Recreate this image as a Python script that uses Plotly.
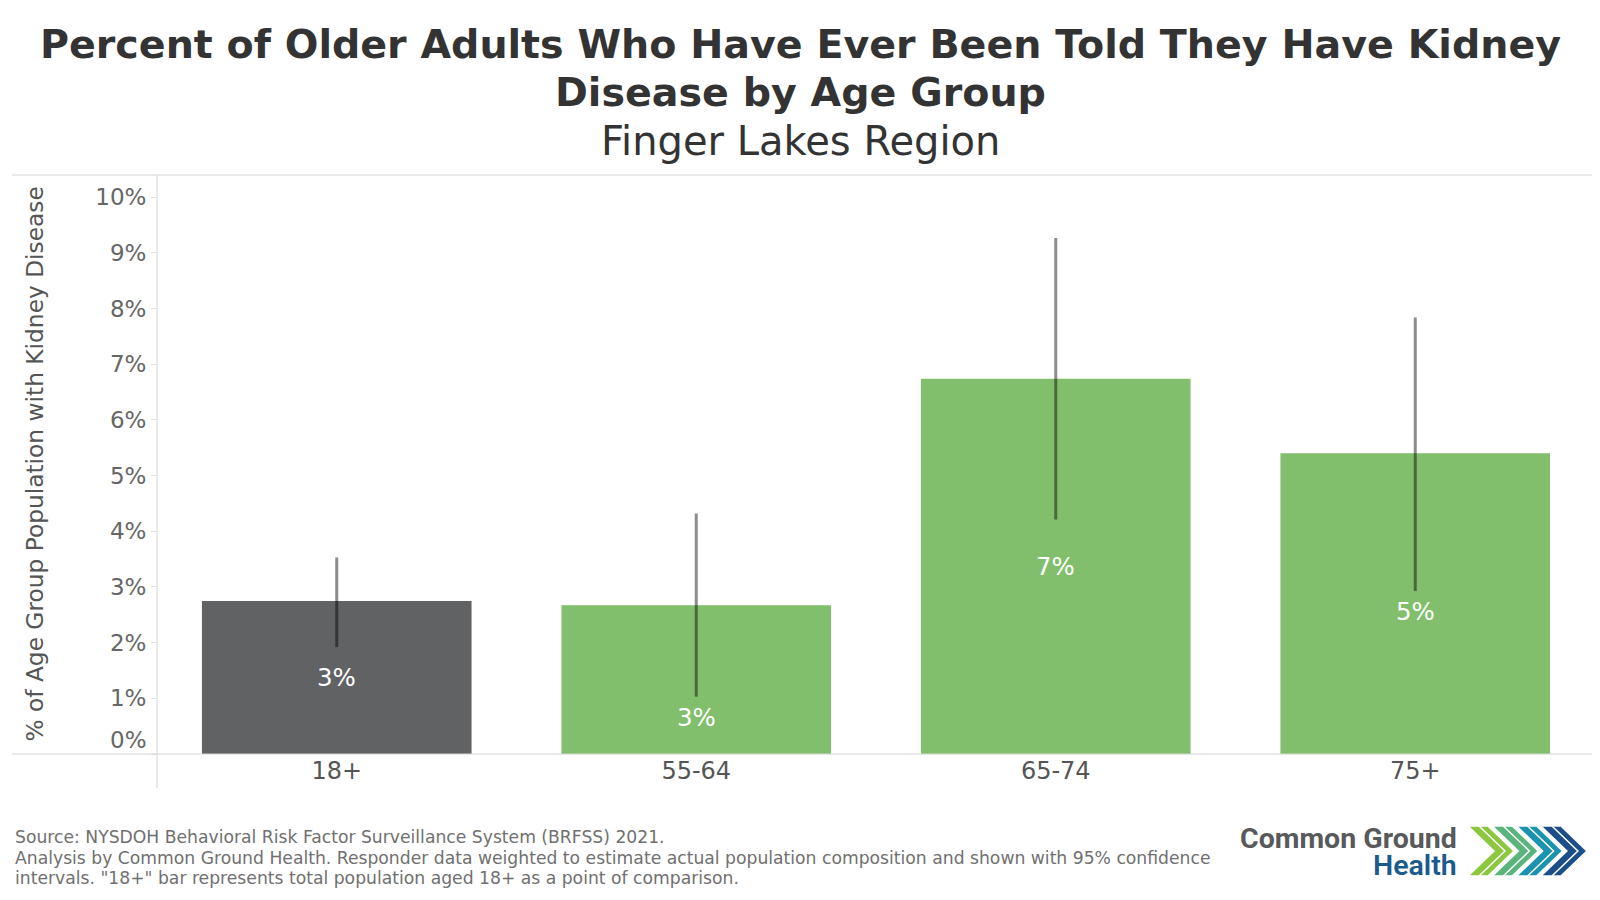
import plotly.graph_objects as go

# values (percent)
age_groups = ["18+", "55-64", "65-74", "75+"]
pct = [2.75, 2.67, 6.74, 5.40]
ci_low = [1.92, 1.03, 4.21, 2.93]
ci_high = [3.53, 4.32, 9.27, 7.84]

title_lines = ["Percent of Older Adults Who Have Ever Been Told They Have Kidney",
               "Disease by Age Group"]
subtitle = "Finger Lakes Region"
y_title = "% of Age Group Population with Kidney Disease"
footer = ["Source: NYSDOH Behavioral Risk Factor Surveillance System (BRFSS) 2021.",
          "Analysis by Common Ground Health. Responder data weighted to estimate actual population composition and shown with 95% confidence",
          "intervals. \"18+\" bar represents total population aged 18+ as a point of comparison."]

W, H = 1600, 900
L, R, T, B = 149, 1587, 167, 746
FONT = "DejaVu Sans"
GRAY_BAR = "#616264"
GREEN_BAR = "#82BF6C"


def px_x(x):
    return (x - L) / (R - L)


def px_y(y):
    return (B - y) / (B - T)


bar_colors = [GRAY_BAR] + [GREEN_BAR] * (len(age_groups) - 1)

fig = go.Figure()
fig.add_trace(go.Bar(
    x=age_groups, y=pct,
    marker=dict(color=bar_colors, line=dict(width=0)),
    error_y=dict(type="data", symmetric=False,
                 array=[h - v for h, v in zip(ci_high, pct)],
                 arrayminus=[v - lo for v, lo in zip(pct, ci_low)],
                 color="rgba(0,0,0,0.45)", thickness=3, width=0),
    hoverinfo="skip",
))

annotations = []
# bar value labels, pushed below the CI line when they would collide
for g, v, lo in zip(age_groups, pct, ci_low):
    mid = v / 2
    if mid > lo - 0.45:
        annotations.append(dict(x=g, y=lo, xref="x", yref="y", text=f"{round(v)}%",
                                showarrow=False, yanchor="top", yshift=-4,
                                font=dict(family=FONT, size=24.5, color="white")))
    else:
        annotations.append(dict(x=g, y=mid, xref="x", yref="y", text=f"{round(v)}%",
                                showarrow=False, yanchor="middle",
                                font=dict(family=FONT, size=24.5, color="white")))

# titles
for txt, ypx in zip(title_lines, [36, 84]):
    annotations.append(dict(x=px_x(792), y=px_y(ypx), xref="paper", yref="paper", text=f"<b>{txt}</b>",
                            showarrow=False, xanchor="center", yanchor="middle",
                            font=dict(family=FONT, size=39.6, color="#333333")))
annotations.append(dict(x=px_x(792), y=px_y(133), xref="paper", yref="paper", text=subtitle,
                        showarrow=False, xanchor="center", yanchor="middle",
                        font=dict(family=FONT, size=40, color="#333333")))

# y axis title and raised 0% label (tableau style)
annotations.append(dict(x=px_x(26), y=0.5, xref="paper", yref="paper", text=y_title,
                        textangle=-90, showarrow=False, xanchor="center", yanchor="middle",
                        font=dict(family=FONT, size=23.3, color="#555555")))
annotations.append(dict(x=0, y=0, xref="paper", yref="y", text="0%", showarrow=False,
                        xanchor="right", yanchor="middle", xshift=-8, yshift=14,
                        font=dict(family=FONT, size=23, color="#666666")))

# footer
for txt, ypx in zip(footer, [829, 849.5, 870]):
    annotations.append(dict(x=px_x(5), y=px_y(ypx), xref="paper", yref="paper", text=txt,
                            showarrow=False, xanchor="left", yanchor="middle",
                            font=dict(family=FONT, size=17.2, color="#707070")))

# logo text
annotations.append(dict(x=px_x(1451), y=px_y(830), xref="paper", yref="paper",
                        text="Common Ground", showarrow=False, xanchor="right", yanchor="middle",
                        font=dict(family="Roboto", size=28.5, color="#58595B", weight=700)))
annotations.append(dict(x=px_x(1451), y=px_y(857), xref="paper", yref="paper",
                        text="Health", showarrow=False, xanchor="right", yanchor="middle",
                        font=dict(family="Roboto", size=28.5, color="#1B5A8C", weight=600)))

shapes = []
# frame lines
line_col = "#D4D4D4"
shapes.append(dict(type="line", xref="paper", yref="paper", x0=px_x(4), x1=1, y0=1, y1=1,
                   line=dict(color=line_col, width=1)))
shapes.append(dict(type="line", xref="paper", yref="paper", x0=px_x(4), x1=1, y0=0, y1=0,
                   line=dict(color=line_col, width=1)))
shapes.append(dict(type="line", xref="paper", yref="paper", x0=0, x1=0, y0=px_y(780), y1=1,
                   line=dict(color=line_col, width=1)))
shapes.append(dict(type="line", xref="paper", yref="paper", x0=1, x1=1, y0=px_y(780), y1=1,
                   line=dict(color=line_col, width=1)))

# logo chevrons
chev_cols = ["#8DC63F", "#5AB57C", "#1A93AE", "#1C4F8A"]
for i, c in enumerate(chev_cols):
    x0, y0, h, d, t = 1460 + 24.3 * i, 818, 50, 26, 20
    pts = [(x0, y0), (x0 + t, y0), (x0 + t + d, y0 + h / 2), (x0 + t, y0 + h),
           (x0, y0 + h), (x0 + d, y0 + h / 2)]
    path = "M " + " L ".join(f"{px_x(px):.5f},{px_y(py):.5f}" for px, py in pts) + " Z"
    shapes.append(dict(type="path", xref="paper", yref="paper", path=path,
                       fillcolor=c, line=dict(color="white", width=1.5)))
    # thin inner white stroke
    ipts = [(x0 + t * 0.55, y0), (x0 + t * 0.55 + d, y0 + h / 2), (x0 + t * 0.55, y0 + h)]
    ipath = "M " + " L ".join(f"{px_x(px):.5f},{px_y(py):.5f}" for px, py in ipts)
    shapes.append(dict(type="path", xref="paper", yref="paper", path=ipath,
                       line=dict(color="white", width=1.5)))

tick_vals = list(range(0, 11))
tick_text = [""] + [f"{v}%" for v in tick_vals[1:]]

fig.update_layout(
    width=W, height=H,
    margin=dict(l=L, r=W - R, t=T, b=H - B),
    paper_bgcolor="white", plot_bgcolor="white",
    showlegend=False,
    bargap=0.25,
    font=dict(family=FONT, color="#555555"),
    xaxis=dict(showgrid=False, showline=False, zeroline=False, ticks="",
               tickfont=dict(family=FONT, size=24, color="#555555")),
    yaxis=dict(range=[0, 10.4], showgrid=False, showline=False, zeroline=False,
               tickvals=tick_vals, ticktext=tick_text, ticks="outside", ticklen=5,
               tickcolor="#E0E0E0", tickfont=dict(family=FONT, size=23, color="#666666")),
    annotations=annotations,
    shapes=shapes,
)

fig.write_html("out.html")
